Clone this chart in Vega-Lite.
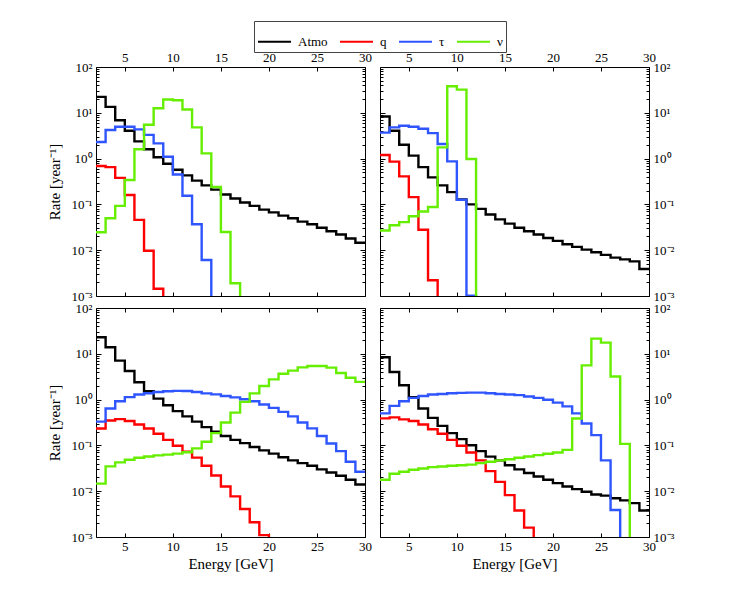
{
  "$schema": "https://vega.github.io/schema/vega-lite/v6.json",
  "padding": {"left": 46, "top": 20, "right": 5, "bottom": 5},
  "datasets": {
    "rates": [
      {"p": "tl", "s": "Atmo", "e": 2, "r": 22.3}, {"p": "tl", "s": "Atmo", "e": 3, "r": 13.5}, {"p": "tl", "s": "Atmo", "e": 4, "r": 6.9}, {"p": "tl", "s": "Atmo", "e": 5, "r": 4.06},
      {"p": "tl", "s": "Atmo", "e": 6, "r": 2.38}, {"p": "tl", "s": "Atmo", "e": 7, "r": 1.6}, {"p": "tl", "s": "Atmo", "e": 8, "r": 1.07}, {"p": "tl", "s": "Atmo", "e": 9, "r": 0.77},
      {"p": "tl", "s": "Atmo", "e": 10, "r": 0.57}, {"p": "tl", "s": "Atmo", "e": 11, "r": 0.43}, {"p": "tl", "s": "Atmo", "e": 12, "r": 0.33}, {"p": "tl", "s": "Atmo", "e": 13, "r": 0.26},
      {"p": "tl", "s": "Atmo", "e": 14, "r": 0.21}, {"p": "tl", "s": "Atmo", "e": 15, "r": 0.165}, {"p": "tl", "s": "Atmo", "e": 16, "r": 0.135}, {"p": "tl", "s": "Atmo", "e": 17, "r": 0.11},
      {"p": "tl", "s": "Atmo", "e": 18, "r": 0.093}, {"p": "tl", "s": "Atmo", "e": 19, "r": 0.077}, {"p": "tl", "s": "Atmo", "e": 20, "r": 0.067}, {"p": "tl", "s": "Atmo", "e": 21, "r": 0.057},
      {"p": "tl", "s": "Atmo", "e": 22, "r": 0.05}, {"p": "tl", "s": "Atmo", "e": 23, "r": 0.042}, {"p": "tl", "s": "Atmo", "e": 24, "r": 0.037}, {"p": "tl", "s": "Atmo", "e": 25, "r": 0.031},
      {"p": "tl", "s": "Atmo", "e": 26, "r": 0.026}, {"p": "tl", "s": "Atmo", "e": 27, "r": 0.022}, {"p": "tl", "s": "Atmo", "e": 28, "r": 0.018}, {"p": "tl", "s": "Atmo", "e": 29, "r": 0.0145},
      {"p": "tl", "s": "Atmo", "e": 30, "r": 0.0145},
      {"p": "tl", "s": "q", "e": 2, "r": 0.69}, {"p": "tl", "s": "q", "e": 3, "r": 0.65}, {"p": "tl", "s": "q", "e": 4, "r": 0.38}, {"p": "tl", "s": "q", "e": 5, "r": 0.16},
      {"p": "tl", "s": "q", "e": 6, "r": 0.046}, {"p": "tl", "s": "q", "e": 7, "r": 0.0097}, {"p": "tl", "s": "q", "e": 8, "r": 0.00144}, {"p": "tl", "s": "q", "e": 9, "r": 0.0001},
      {"p": "tl", "s": "τ", "e": 2, "r": 2.3}, {"p": "tl", "s": "τ", "e": 3, "r": 4.2}, {"p": "tl", "s": "τ", "e": 4, "r": 4.97}, {"p": "tl", "s": "τ", "e": 5, "r": 4.97},
      {"p": "tl", "s": "τ", "e": 6, "r": 4.35}, {"p": "tl", "s": "τ", "e": 7, "r": 3.3}, {"p": "tl", "s": "τ", "e": 8, "r": 2.15}, {"p": "tl", "s": "τ", "e": 9, "r": 1.1},
      {"p": "tl", "s": "τ", "e": 10, "r": 0.45}, {"p": "tl", "s": "τ", "e": 11, "r": 0.154}, {"p": "tl", "s": "τ", "e": 12, "r": 0.037}, {"p": "tl", "s": "τ", "e": 13, "r": 0.0061},
      {"p": "tl", "s": "τ", "e": 14, "r": 0.0001},
      {"p": "tl", "s": "ν", "e": 2, "r": 0.0246}, {"p": "tl", "s": "ν", "e": 3, "r": 0.05}, {"p": "tl", "s": "ν", "e": 4, "r": 0.093}, {"p": "tl", "s": "ν", "e": 5, "r": 0.34},
      {"p": "tl", "s": "ν", "e": 6, "r": 1.6}, {"p": "tl", "s": "ν", "e": 7, "r": 5.5}, {"p": "tl", "s": "ν", "e": 8, "r": 12.6}, {"p": "tl", "s": "ν", "e": 9, "r": 19.5},
      {"p": "tl", "s": "ν", "e": 10, "r": 18.8}, {"p": "tl", "s": "ν", "e": 11, "r": 11.8}, {"p": "tl", "s": "ν", "e": 12, "r": 4.8}, {"p": "tl", "s": "ν", "e": 13, "r": 1.3},
      {"p": "tl", "s": "ν", "e": 14, "r": 0.24}, {"p": "tl", "s": "ν", "e": 15, "r": 0.025}, {"p": "tl", "s": "ν", "e": 16, "r": 0.0019}, {"p": "tl", "s": "ν", "e": 17, "r": 0.0001},

      {"p": "tr", "s": "Atmo", "e": 2, "r": 8.3}, {"p": "tr", "s": "Atmo", "e": 3, "r": 4.06}, {"p": "tr", "s": "Atmo", "e": 4, "r": 2.0}, {"p": "tr", "s": "Atmo", "e": 5, "r": 1.16},
      {"p": "tr", "s": "Atmo", "e": 6, "r": 0.65}, {"p": "tr", "s": "Atmo", "e": 7, "r": 0.39}, {"p": "tr", "s": "Atmo", "e": 8, "r": 0.26}, {"p": "tr", "s": "Atmo", "e": 9, "r": 0.185},
      {"p": "tr", "s": "Atmo", "e": 10, "r": 0.128}, {"p": "tr", "s": "Atmo", "e": 11, "r": 0.1}, {"p": "tr", "s": "Atmo", "e": 12, "r": 0.08}, {"p": "tr", "s": "Atmo", "e": 13, "r": 0.06},
      {"p": "tr", "s": "Atmo", "e": 14, "r": 0.047}, {"p": "tr", "s": "Atmo", "e": 15, "r": 0.038}, {"p": "tr", "s": "Atmo", "e": 16, "r": 0.031}, {"p": "tr", "s": "Atmo", "e": 17, "r": 0.026},
      {"p": "tr", "s": "Atmo", "e": 18, "r": 0.022}, {"p": "tr", "s": "Atmo", "e": 19, "r": 0.0185}, {"p": "tr", "s": "Atmo", "e": 20, "r": 0.016}, {"p": "tr", "s": "Atmo", "e": 21, "r": 0.0135},
      {"p": "tr", "s": "Atmo", "e": 22, "r": 0.0118}, {"p": "tr", "s": "Atmo", "e": 23, "r": 0.0103}, {"p": "tr", "s": "Atmo", "e": 24, "r": 0.009}, {"p": "tr", "s": "Atmo", "e": 25, "r": 0.0079},
      {"p": "tr", "s": "Atmo", "e": 26, "r": 0.0069}, {"p": "tr", "s": "Atmo", "e": 27, "r": 0.0063}, {"p": "tr", "s": "Atmo", "e": 28, "r": 0.0057}, {"p": "tr", "s": "Atmo", "e": 29, "r": 0.0039},
      {"p": "tr", "s": "Atmo", "e": 30, "r": 0.0039},
      {"p": "tr", "s": "q", "e": 2, "r": 1.2}, {"p": "tr", "s": "q", "e": 3, "r": 0.86}, {"p": "tr", "s": "q", "e": 4, "r": 0.41}, {"p": "tr", "s": "q", "e": 5, "r": 0.144},
      {"p": "tr", "s": "q", "e": 6, "r": 0.028}, {"p": "tr", "s": "q", "e": 7, "r": 0.0022}, {"p": "tr", "s": "q", "e": 8, "r": 0.0001},
      {"p": "tr", "s": "τ", "e": 2, "r": 3.7}, {"p": "tr", "s": "τ", "e": 3, "r": 4.8}, {"p": "tr", "s": "τ", "e": 4, "r": 5.2}, {"p": "tr", "s": "τ", "e": 5, "r": 4.97},
      {"p": "tr", "s": "τ", "e": 6, "r": 4.5}, {"p": "tr", "s": "τ", "e": 7, "r": 3.6}, {"p": "tr", "s": "τ", "e": 8, "r": 2.08}, {"p": "tr", "s": "τ", "e": 9, "r": 0.87},
      {"p": "tr", "s": "τ", "e": 10, "r": 0.126}, {"p": "tr", "s": "τ", "e": 11, "r": 0.00102}, {"p": "tr", "s": "τ", "e": 12, "r": 0.0001},
      {"p": "tr", "s": "ν", "e": 2, "r": 0.027}, {"p": "tr", "s": "ν", "e": 3, "r": 0.035}, {"p": "tr", "s": "ν", "e": 4, "r": 0.041}, {"p": "tr", "s": "ν", "e": 5, "r": 0.055},
      {"p": "tr", "s": "ν", "e": 6, "r": 0.07}, {"p": "tr", "s": "ν", "e": 7, "r": 0.0875}, {"p": "tr", "s": "ν", "e": 8, "r": 1.76}, {"p": "tr", "s": "ν", "e": 9, "r": 38},
      {"p": "tr", "s": "ν", "e": 10, "r": 32}, {"p": "tr", "s": "ν", "e": 11, "r": 0.98}, {"p": "tr", "s": "ν", "e": 12, "r": 0.0001},

      {"p": "bl", "s": "Atmo", "e": 2, "r": 22.9}, {"p": "bl", "s": "Atmo", "e": 3, "r": 13.9}, {"p": "bl", "s": "Atmo", "e": 4, "r": 7.1}, {"p": "bl", "s": "Atmo", "e": 5, "r": 4.2},
      {"p": "bl", "s": "Atmo", "e": 6, "r": 2.4}, {"p": "bl", "s": "Atmo", "e": 7, "r": 1.52}, {"p": "bl", "s": "Atmo", "e": 8, "r": 1.05}, {"p": "bl", "s": "Atmo", "e": 9, "r": 0.755},
      {"p": "bl", "s": "Atmo", "e": 10, "r": 0.56}, {"p": "bl", "s": "Atmo", "e": 11, "r": 0.43}, {"p": "bl", "s": "Atmo", "e": 12, "r": 0.33}, {"p": "bl", "s": "Atmo", "e": 13, "r": 0.25},
      {"p": "bl", "s": "Atmo", "e": 14, "r": 0.2}, {"p": "bl", "s": "Atmo", "e": 15, "r": 0.16}, {"p": "bl", "s": "Atmo", "e": 16, "r": 0.132}, {"p": "bl", "s": "Atmo", "e": 17, "r": 0.112},
      {"p": "bl", "s": "Atmo", "e": 18, "r": 0.092}, {"p": "bl", "s": "Atmo", "e": 19, "r": 0.078}, {"p": "bl", "s": "Atmo", "e": 20, "r": 0.066}, {"p": "bl", "s": "Atmo", "e": 21, "r": 0.055},
      {"p": "bl", "s": "Atmo", "e": 22, "r": 0.047}, {"p": "bl", "s": "Atmo", "e": 23, "r": 0.041}, {"p": "bl", "s": "Atmo", "e": 24, "r": 0.036}, {"p": "bl", "s": "Atmo", "e": 25, "r": 0.03},
      {"p": "bl", "s": "Atmo", "e": 26, "r": 0.0257}, {"p": "bl", "s": "Atmo", "e": 27, "r": 0.0217}, {"p": "bl", "s": "Atmo", "e": 28, "r": 0.0178}, {"p": "bl", "s": "Atmo", "e": 29, "r": 0.014},
      {"p": "bl", "s": "Atmo", "e": 30, "r": 0.014},
      {"p": "bl", "s": "q", "e": 2, "r": 0.234}, {"p": "bl", "s": "q", "e": 3, "r": 0.35}, {"p": "bl", "s": "q", "e": 4, "r": 0.374}, {"p": "bl", "s": "q", "e": 5, "r": 0.34},
      {"p": "bl", "s": "q", "e": 6, "r": 0.286}, {"p": "bl", "s": "q", "e": 7, "r": 0.234}, {"p": "bl", "s": "q", "e": 8, "r": 0.179}, {"p": "bl", "s": "q", "e": 9, "r": 0.132},
      {"p": "bl", "s": "q", "e": 10, "r": 0.098}, {"p": "bl", "s": "q", "e": 11, "r": 0.073}, {"p": "bl", "s": "q", "e": 12, "r": 0.054}, {"p": "bl", "s": "q", "e": 13, "r": 0.036},
      {"p": "bl", "s": "q", "e": 14, "r": 0.022}, {"p": "bl", "s": "q", "e": 15, "r": 0.0127}, {"p": "bl", "s": "q", "e": 16, "r": 0.0077}, {"p": "bl", "s": "q", "e": 17, "r": 0.0041},
      {"p": "bl", "s": "q", "e": 18, "r": 0.0021}, {"p": "bl", "s": "q", "e": 19, "r": 0.0011}, {"p": "bl", "s": "q", "e": 20, "r": 0.0001},
      {"p": "bl", "s": "τ", "e": 2, "r": 0.33}, {"p": "bl", "s": "τ", "e": 3, "r": 0.64}, {"p": "bl", "s": "τ", "e": 4, "r": 0.92}, {"p": "bl", "s": "τ", "e": 5, "r": 1.13},
      {"p": "bl", "s": "τ", "e": 6, "r": 1.29}, {"p": "bl", "s": "τ", "e": 7, "r": 1.38}, {"p": "bl", "s": "τ", "e": 8, "r": 1.47}, {"p": "bl", "s": "τ", "e": 9, "r": 1.52},
      {"p": "bl", "s": "τ", "e": 10, "r": 1.55}, {"p": "bl", "s": "τ", "e": 11, "r": 1.54}, {"p": "bl", "s": "τ", "e": 12, "r": 1.47}, {"p": "bl", "s": "τ", "e": 13, "r": 1.37},
      {"p": "bl", "s": "τ", "e": 14, "r": 1.3}, {"p": "bl", "s": "τ", "e": 15, "r": 1.2}, {"p": "bl", "s": "τ", "e": 16, "r": 1.12}, {"p": "bl", "s": "τ", "e": 17, "r": 1.02},
      {"p": "bl", "s": "τ", "e": 18, "r": 0.92}, {"p": "bl", "s": "τ", "e": 19, "r": 0.78}, {"p": "bl", "s": "τ", "e": 20, "r": 0.66}, {"p": "bl", "s": "τ", "e": 21, "r": 0.54},
      {"p": "bl", "s": "τ", "e": 22, "r": 0.43}, {"p": "bl", "s": "τ", "e": 23, "r": 0.316}, {"p": "bl", "s": "τ", "e": 24, "r": 0.235}, {"p": "bl", "s": "τ", "e": 25, "r": 0.16},
      {"p": "bl", "s": "τ", "e": 26, "r": 0.11}, {"p": "bl", "s": "τ", "e": 27, "r": 0.075}, {"p": "bl", "s": "τ", "e": 28, "r": 0.044}, {"p": "bl", "s": "τ", "e": 29, "r": 0.0265},
      {"p": "bl", "s": "τ", "e": 30, "r": 0.0265},
      {"p": "bl", "s": "ν", "e": 2, "r": 0.0146}, {"p": "bl", "s": "ν", "e": 3, "r": 0.0348}, {"p": "bl", "s": "ν", "e": 4, "r": 0.0425}, {"p": "bl", "s": "ν", "e": 5, "r": 0.0486},
      {"p": "bl", "s": "ν", "e": 6, "r": 0.0537}, {"p": "bl", "s": "ν", "e": 7, "r": 0.0574}, {"p": "bl", "s": "ν", "e": 8, "r": 0.0605}, {"p": "bl", "s": "ν", "e": 9, "r": 0.063},
      {"p": "bl", "s": "ν", "e": 10, "r": 0.066}, {"p": "bl", "s": "ν", "e": 11, "r": 0.071}, {"p": "bl", "s": "ν", "e": 12, "r": 0.086}, {"p": "bl", "s": "ν", "e": 13, "r": 0.12},
      {"p": "bl", "s": "ν", "e": 14, "r": 0.185}, {"p": "bl", "s": "ν", "e": 15, "r": 0.316}, {"p": "bl", "s": "ν", "e": 16, "r": 0.52}, {"p": "bl", "s": "ν", "e": 17, "r": 0.89},
      {"p": "bl", "s": "ν", "e": 18, "r": 1.37}, {"p": "bl", "s": "ν", "e": 19, "r": 1.98}, {"p": "bl", "s": "ν", "e": 20, "r": 2.77}, {"p": "bl", "s": "ν", "e": 21, "r": 3.67},
      {"p": "bl", "s": "ν", "e": 22, "r": 4.3}, {"p": "bl", "s": "ν", "e": 23, "r": 5.05}, {"p": "bl", "s": "ν", "e": 24, "r": 5.4}, {"p": "bl", "s": "ν", "e": 25, "r": 5.4},
      {"p": "bl", "s": "ν", "e": 26, "r": 5.0}, {"p": "bl", "s": "ν", "e": 27, "r": 3.8}, {"p": "bl", "s": "ν", "e": 28, "r": 3.0}, {"p": "bl", "s": "ν", "e": 29, "r": 2.44},
      {"p": "bl", "s": "ν", "e": 30, "r": 2.44},

      {"p": "br", "s": "Atmo", "e": 2, "r": 8.4}, {"p": "br", "s": "Atmo", "e": 3, "r": 4.0}, {"p": "br", "s": "Atmo", "e": 4, "r": 2.06}, {"p": "br", "s": "Atmo", "e": 5, "r": 1.13},
      {"p": "br", "s": "Atmo", "e": 6, "r": 0.64}, {"p": "br", "s": "Atmo", "e": 7, "r": 0.4}, {"p": "br", "s": "Atmo", "e": 8, "r": 0.267}, {"p": "br", "s": "Atmo", "e": 9, "r": 0.185},
      {"p": "br", "s": "Atmo", "e": 10, "r": 0.137}, {"p": "br", "s": "Atmo", "e": 11, "r": 0.101}, {"p": "br", "s": "Atmo", "e": 12, "r": 0.075}, {"p": "br", "s": "Atmo", "e": 13, "r": 0.057},
      {"p": "br", "s": "Atmo", "e": 14, "r": 0.047}, {"p": "br", "s": "Atmo", "e": 15, "r": 0.037}, {"p": "br", "s": "Atmo", "e": 16, "r": 0.03}, {"p": "br", "s": "Atmo", "e": 17, "r": 0.0249},
      {"p": "br", "s": "Atmo", "e": 18, "r": 0.021}, {"p": "br", "s": "Atmo", "e": 19, "r": 0.0178}, {"p": "br", "s": "Atmo", "e": 20, "r": 0.015}, {"p": "br", "s": "Atmo", "e": 21, "r": 0.0127},
      {"p": "br", "s": "Atmo", "e": 22, "r": 0.0111}, {"p": "br", "s": "Atmo", "e": 23, "r": 0.0097}, {"p": "br", "s": "Atmo", "e": 24, "r": 0.0085}, {"p": "br", "s": "Atmo", "e": 25, "r": 0.008},
      {"p": "br", "s": "Atmo", "e": 26, "r": 0.007}, {"p": "br", "s": "Atmo", "e": 27, "r": 0.0063}, {"p": "br", "s": "Atmo", "e": 28, "r": 0.0055}, {"p": "br", "s": "Atmo", "e": 29, "r": 0.0038},
      {"p": "br", "s": "Atmo", "e": 30, "r": 0.0038},
      {"p": "br", "s": "q", "e": 2, "r": 0.39}, {"p": "br", "s": "q", "e": 3, "r": 0.41}, {"p": "br", "s": "q", "e": 4, "r": 0.37}, {"p": "br", "s": "q", "e": 5, "r": 0.34},
      {"p": "br", "s": "q", "e": 6, "r": 0.286}, {"p": "br", "s": "q", "e": 7, "r": 0.226}, {"p": "br", "s": "q", "e": 8, "r": 0.179}, {"p": "br", "s": "q", "e": 9, "r": 0.132},
      {"p": "br", "s": "q", "e": 10, "r": 0.098}, {"p": "br", "s": "q", "e": 11, "r": 0.07}, {"p": "br", "s": "q", "e": 12, "r": 0.047}, {"p": "br", "s": "q", "e": 13, "r": 0.0275},
      {"p": "br", "s": "q", "e": 14, "r": 0.016}, {"p": "br", "s": "q", "e": 15, "r": 0.0082}, {"p": "br", "s": "q", "e": 16, "r": 0.0038}, {"p": "br", "s": "q", "e": 17, "r": 0.0016},
      {"p": "br", "s": "q", "e": 18, "r": 0.0001},
      {"p": "br", "s": "τ", "e": 2, "r": 0.5}, {"p": "br", "s": "τ", "e": 3, "r": 0.73}, {"p": "br", "s": "τ", "e": 4, "r": 0.92}, {"p": "br", "s": "τ", "e": 5, "r": 1.09},
      {"p": "br", "s": "τ", "e": 6, "r": 1.2}, {"p": "br", "s": "τ", "e": 7, "r": 1.29}, {"p": "br", "s": "τ", "e": 8, "r": 1.33}, {"p": "br", "s": "τ", "e": 9, "r": 1.38},
      {"p": "br", "s": "τ", "e": 10, "r": 1.4}, {"p": "br", "s": "τ", "e": 11, "r": 1.42}, {"p": "br", "s": "τ", "e": 12, "r": 1.42}, {"p": "br", "s": "τ", "e": 13, "r": 1.38},
      {"p": "br", "s": "τ", "e": 14, "r": 1.33}, {"p": "br", "s": "τ", "e": 15, "r": 1.29}, {"p": "br", "s": "τ", "e": 16, "r": 1.25}, {"p": "br", "s": "τ", "e": 17, "r": 1.17},
      {"p": "br", "s": "τ", "e": 18, "r": 1.09}, {"p": "br", "s": "τ", "e": 19, "r": 0.99}, {"p": "br", "s": "τ", "e": 20, "r": 0.86}, {"p": "br", "s": "τ", "e": 21, "r": 0.71},
      {"p": "br", "s": "τ", "e": 22, "r": 0.5}, {"p": "br", "s": "τ", "e": 23, "r": 0.3}, {"p": "br", "s": "τ", "e": 24, "r": 0.168}, {"p": "br", "s": "τ", "e": 25, "r": 0.047},
      {"p": "br", "s": "τ", "e": 26, "r": 0.0039}, {"p": "br", "s": "τ", "e": 27, "r": 0.0001},
      {"p": "br", "s": "ν", "e": 2, "r": 0.0178}, {"p": "br", "s": "ν", "e": 3, "r": 0.024}, {"p": "br", "s": "ν", "e": 4, "r": 0.0265}, {"p": "br", "s": "ν", "e": 5, "r": 0.0294},
      {"p": "br", "s": "ν", "e": 6, "r": 0.0314}, {"p": "br", "s": "ν", "e": 7, "r": 0.0336}, {"p": "br", "s": "ν", "e": 8, "r": 0.0347}, {"p": "br", "s": "ν", "e": 9, "r": 0.0359},
      {"p": "br", "s": "ν", "e": 10, "r": 0.037}, {"p": "br", "s": "ν", "e": 11, "r": 0.038}, {"p": "br", "s": "ν", "e": 12, "r": 0.041}, {"p": "br", "s": "ν", "e": 13, "r": 0.044},
      {"p": "br", "s": "ν", "e": 14, "r": 0.047}, {"p": "br", "s": "ν", "e": 15, "r": 0.05}, {"p": "br", "s": "ν", "e": 16, "r": 0.0537}, {"p": "br", "s": "ν", "e": 17, "r": 0.0574},
      {"p": "br", "s": "ν", "e": 18, "r": 0.0614}, {"p": "br", "s": "ν", "e": 19, "r": 0.0656}, {"p": "br", "s": "ν", "e": 20, "r": 0.07}, {"p": "br", "s": "ν", "e": 21, "r": 0.08},
      {"p": "br", "s": "ν", "e": 22, "r": 0.386}, {"p": "br", "s": "ν", "e": 23, "r": 5.6}, {"p": "br", "s": "ν", "e": 24, "r": 21.4}, {"p": "br", "s": "ν", "e": 25, "r": 17.5},
      {"p": "br", "s": "ν", "e": 26, "r": 3.2}, {"p": "br", "s": "ν", "e": 27, "r": 0.108}, {"p": "br", "s": "ν", "e": 28, "r": 0.0001}
    ]
  },
  "data": {"name": "rates"},
  "columns": 2,
  "spacing": {"row": 12, "column": 15},
  "bounds": "flush",
  "concat": [
    {
      "width": 269, "height": 229,
      "transform": [{"filter": "datum.p == 'tl'"}],
      "layer": [
        {
          "mark": {"type": "line", "interpolate": "step-after", "strokeWidth": 2.4, "clip": true},
          "encoding": {
            "x": {"field": "e", "type": "quantitative", "scale": {"domain": [2, 30], "nice": false},
              "axis": {"orient": "bottom", "values": [5, 10, 15, 20, 25, 30], "labels": false, "title": null}},
            "y": {"field": "r", "type": "quantitative", "scale": {"type": "log", "domain": [0.001, 100], "nice": false},
              "axis": {"orient": "left", "labels": true, "title": "Rate [year⁻¹]",
                "values": [0.001, 0.002, 0.003, 0.004, 0.005, 0.006, 0.007, 0.008, 0.009, 0.01, 0.02, 0.03, 0.04, 0.05, 0.06, 0.07, 0.08, 0.09, 0.1, 0.2, 0.3, 0.4, 0.5, 0.6, 0.7, 0.8, 0.9, 1, 2, 3, 4, 5, 6, 7, 8, 9, 10, 20, 30, 40, 50, 60, 70, 80, 90, 100],
                "labelExpr": "abs(log(datum.value)/LN10 - round(log(datum.value)/LN10)) > 0.001 ? '' : '10' + ['⁻³','⁻²','⁻¹','⁰','¹','²'][round(log(datum.value)/LN10) + 3]",
                "tickSize": {"condition": {"test": "abs(log(datum.value)/LN10 - round(log(datum.value)/LN10)) < 0.001", "value": -5}, "value": -3}}},
            "color": {"field": "s", "type": "nominal",
              "scale": {"domain": ["Atmo", "q", "τ", "ν"], "range": ["#000000", "#ff0000", "#2f55ff", "#66ee00"]},
              "legend": {"title": null, "orient": "none", "legendX": 158, "legendY": -46, "direction": "horizontal",
                "symbolType": "stroke", "symbolSize": 1089, "symbolStrokeWidth": 2, "strokeColor": "#444444", "fillColor": "white",
                "padding": 3, "columnPadding": 8, "labelOffset": 6, "labelFontSize": 13, "labelFont": "Liberation Serif", "labelColor": "black"}}
          }
        },
        {
          "mark": {"type": "line", "opacity": 0},
          "encoding": {
            "x": {"field": "e", "type": "quantitative", "scale": {"domain": [2, 30], "nice": false},
              "axis": {"orient": "top", "values": [5, 10, 15, 20, 25, 30], "labels": true, "title": null}},
            "y": {"field": "r", "type": "quantitative", "scale": {"type": "log", "domain": [0.001, 100], "nice": false},
              "axis": {"orient": "right", "labels": false, "title": null,
                "values": [0.001, 0.002, 0.003, 0.004, 0.005, 0.006, 0.007, 0.008, 0.009, 0.01, 0.02, 0.03, 0.04, 0.05, 0.06, 0.07, 0.08, 0.09, 0.1, 0.2, 0.3, 0.4, 0.5, 0.6, 0.7, 0.8, 0.9, 1, 2, 3, 4, 5, 6, 7, 8, 9, 10, 20, 30, 40, 50, 60, 70, 80, 90, 100],
                "tickSize": {"condition": {"test": "abs(log(datum.value)/LN10 - round(log(datum.value)/LN10)) < 0.001", "value": -5}, "value": -3}}}
          }
        }
      ],
      "resolve": {"axis": {"x": "independent", "y": "independent"}}
    },
    {
      "width": 269, "height": 229,
      "transform": [{"filter": "datum.p == 'tr'"}],
      "layer": [
        {
          "mark": {"type": "line", "interpolate": "step-after", "strokeWidth": 2.4, "clip": true},
          "encoding": {
            "x": {"field": "e", "type": "quantitative", "scale": {"domain": [2, 30], "nice": false},
              "axis": {"orient": "bottom", "values": [5, 10, 15, 20, 25, 30], "labels": false, "title": null}},
            "y": {"field": "r", "type": "quantitative", "scale": {"type": "log", "domain": [0.001, 100], "nice": false},
              "axis": {"orient": "left", "labels": false, "title": null,
                "values": [0.001, 0.002, 0.003, 0.004, 0.005, 0.006, 0.007, 0.008, 0.009, 0.01, 0.02, 0.03, 0.04, 0.05, 0.06, 0.07, 0.08, 0.09, 0.1, 0.2, 0.3, 0.4, 0.5, 0.6, 0.7, 0.8, 0.9, 1, 2, 3, 4, 5, 6, 7, 8, 9, 10, 20, 30, 40, 50, 60, 70, 80, 90, 100],
                "tickSize": {"condition": {"test": "abs(log(datum.value)/LN10 - round(log(datum.value)/LN10)) < 0.001", "value": -5}, "value": -3}}},
            "color": {"field": "s", "type": "nominal", "scale": {"domain": ["Atmo", "q", "τ", "ν"], "range": ["#000000", "#ff0000", "#2f55ff", "#66ee00"]}}
          }
        },
        {
          "mark": {"type": "line", "opacity": 0},
          "encoding": {
            "x": {"field": "e", "type": "quantitative", "scale": {"domain": [2, 30], "nice": false},
              "axis": {"orient": "top", "values": [5, 10, 15, 20, 25, 30], "labels": true, "title": null}},
            "y": {"field": "r", "type": "quantitative", "scale": {"type": "log", "domain": [0.001, 100], "nice": false},
              "axis": {"orient": "right", "labels": true, "title": null,
                "values": [0.001, 0.002, 0.003, 0.004, 0.005, 0.006, 0.007, 0.008, 0.009, 0.01, 0.02, 0.03, 0.04, 0.05, 0.06, 0.07, 0.08, 0.09, 0.1, 0.2, 0.3, 0.4, 0.5, 0.6, 0.7, 0.8, 0.9, 1, 2, 3, 4, 5, 6, 7, 8, 9, 10, 20, 30, 40, 50, 60, 70, 80, 90, 100],
                "labelExpr": "abs(log(datum.value)/LN10 - round(log(datum.value)/LN10)) > 0.001 ? '' : '10' + ['⁻³','⁻²','⁻¹','⁰','¹','²'][round(log(datum.value)/LN10) + 3]",
                "tickSize": {"condition": {"test": "abs(log(datum.value)/LN10 - round(log(datum.value)/LN10)) < 0.001", "value": -5}, "value": -3}}}
          }
        }
      ],
      "resolve": {"axis": {"x": "independent", "y": "independent"}}
    },
    {
      "width": 269, "height": 229,
      "transform": [{"filter": "datum.p == 'bl'"}],
      "layer": [
        {
          "mark": {"type": "line", "interpolate": "step-after", "strokeWidth": 2.4, "clip": true},
          "encoding": {
            "x": {"field": "e", "type": "quantitative", "scale": {"domain": [2, 30], "nice": false},
              "axis": {"orient": "bottom", "values": [5, 10, 15, 20, 25, 30], "labels": true, "title": "Energy [GeV]"}},
            "y": {"field": "r", "type": "quantitative", "scale": {"type": "log", "domain": [0.001, 100], "nice": false},
              "axis": {"orient": "left", "labels": true, "title": "Rate [year⁻¹]",
                "values": [0.001, 0.002, 0.003, 0.004, 0.005, 0.006, 0.007, 0.008, 0.009, 0.01, 0.02, 0.03, 0.04, 0.05, 0.06, 0.07, 0.08, 0.09, 0.1, 0.2, 0.3, 0.4, 0.5, 0.6, 0.7, 0.8, 0.9, 1, 2, 3, 4, 5, 6, 7, 8, 9, 10, 20, 30, 40, 50, 60, 70, 80, 90, 100],
                "labelExpr": "abs(log(datum.value)/LN10 - round(log(datum.value)/LN10)) > 0.001 ? '' : '10' + ['⁻³','⁻²','⁻¹','⁰','¹','²'][round(log(datum.value)/LN10) + 3]",
                "tickSize": {"condition": {"test": "abs(log(datum.value)/LN10 - round(log(datum.value)/LN10)) < 0.001", "value": -5}, "value": -3}}},
            "color": {"field": "s", "type": "nominal", "scale": {"domain": ["Atmo", "q", "τ", "ν"], "range": ["#000000", "#ff0000", "#2f55ff", "#66ee00"]}}
          }
        },
        {
          "mark": {"type": "line", "opacity": 0},
          "encoding": {
            "x": {"field": "e", "type": "quantitative", "scale": {"domain": [2, 30], "nice": false},
              "axis": {"orient": "top", "values": [5, 10, 15, 20, 25, 30], "labels": false, "title": null}},
            "y": {"field": "r", "type": "quantitative", "scale": {"type": "log", "domain": [0.001, 100], "nice": false},
              "axis": {"orient": "right", "labels": false, "title": null,
                "values": [0.001, 0.002, 0.003, 0.004, 0.005, 0.006, 0.007, 0.008, 0.009, 0.01, 0.02, 0.03, 0.04, 0.05, 0.06, 0.07, 0.08, 0.09, 0.1, 0.2, 0.3, 0.4, 0.5, 0.6, 0.7, 0.8, 0.9, 1, 2, 3, 4, 5, 6, 7, 8, 9, 10, 20, 30, 40, 50, 60, 70, 80, 90, 100],
                "tickSize": {"condition": {"test": "abs(log(datum.value)/LN10 - round(log(datum.value)/LN10)) < 0.001", "value": -5}, "value": -3}}}
          }
        }
      ],
      "resolve": {"axis": {"x": "independent", "y": "independent"}}
    },
    {
      "width": 269, "height": 229,
      "transform": [{"filter": "datum.p == 'br'"}],
      "layer": [
        {
          "mark": {"type": "line", "interpolate": "step-after", "strokeWidth": 2.4, "clip": true},
          "encoding": {
            "x": {"field": "e", "type": "quantitative", "scale": {"domain": [2, 30], "nice": false},
              "axis": {"orient": "bottom", "values": [5, 10, 15, 20, 25, 30], "labels": true, "title": "Energy [GeV]"}},
            "y": {"field": "r", "type": "quantitative", "scale": {"type": "log", "domain": [0.001, 100], "nice": false},
              "axis": {"orient": "left", "labels": false, "title": null,
                "values": [0.001, 0.002, 0.003, 0.004, 0.005, 0.006, 0.007, 0.008, 0.009, 0.01, 0.02, 0.03, 0.04, 0.05, 0.06, 0.07, 0.08, 0.09, 0.1, 0.2, 0.3, 0.4, 0.5, 0.6, 0.7, 0.8, 0.9, 1, 2, 3, 4, 5, 6, 7, 8, 9, 10, 20, 30, 40, 50, 60, 70, 80, 90, 100],
                "tickSize": {"condition": {"test": "abs(log(datum.value)/LN10 - round(log(datum.value)/LN10)) < 0.001", "value": -5}, "value": -3}}},
            "color": {"field": "s", "type": "nominal", "scale": {"domain": ["Atmo", "q", "τ", "ν"], "range": ["#000000", "#ff0000", "#2f55ff", "#66ee00"]}}
          }
        },
        {
          "mark": {"type": "line", "opacity": 0},
          "encoding": {
            "x": {"field": "e", "type": "quantitative", "scale": {"domain": [2, 30], "nice": false},
              "axis": {"orient": "top", "values": [5, 10, 15, 20, 25, 30], "labels": false, "title": null}},
            "y": {"field": "r", "type": "quantitative", "scale": {"type": "log", "domain": [0.001, 100], "nice": false},
              "axis": {"orient": "right", "labels": true, "title": null,
                "values": [0.001, 0.002, 0.003, 0.004, 0.005, 0.006, 0.007, 0.008, 0.009, 0.01, 0.02, 0.03, 0.04, 0.05, 0.06, 0.07, 0.08, 0.09, 0.1, 0.2, 0.3, 0.4, 0.5, 0.6, 0.7, 0.8, 0.9, 1, 2, 3, 4, 5, 6, 7, 8, 9, 10, 20, 30, 40, 50, 60, 70, 80, 90, 100],
                "labelExpr": "abs(log(datum.value)/LN10 - round(log(datum.value)/LN10)) > 0.001 ? '' : '10' + ['⁻³','⁻²','⁻¹','⁰','¹','²'][round(log(datum.value)/LN10) + 3]",
                "tickSize": {"condition": {"test": "abs(log(datum.value)/LN10 - round(log(datum.value)/LN10)) < 0.001", "value": -5}, "value": -3}}}
          }
        }
      ],
      "resolve": {"axis": {"x": "independent", "y": "independent"}}
    }
  ],
  "config": {
    "font": "Liberation Serif",
    "view": {"stroke": "black", "strokeWidth": 1},
    "axis": {
      "domain": false, "grid": false, "tickColor": "black", "tickWidth": 1,
      "labelFont": "Liberation Serif", "labelFontSize": 13, "labelColor": "black", "labelOverlap": false, "labelFlush": false,
      "titleFont": "Liberation Serif", "titleFontSize": 15, "titleFontWeight": "normal", "titleColor": "black"
    },
    "axisX": {"tickSize": -4, "labelPadding": 7, "titlePadding": 3},
    "axisY": {"labelPadding": 9, "titlePadding": 9}
  }
}
